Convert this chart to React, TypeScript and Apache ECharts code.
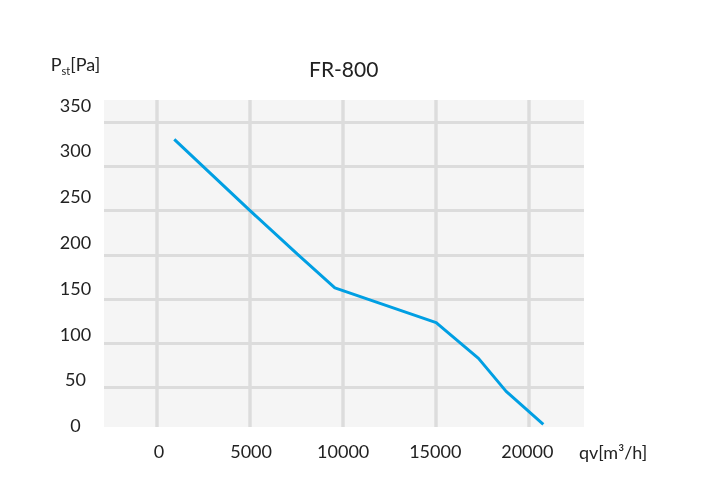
import { useEffect, useRef } from 'react';
import * as echarts from 'echarts';

const chartTitle = 'FR-800';
const flowValues = [830, 4900, 7500, 9550, 15050, 17350, 18850, 20870];
const pressureValues = [312, 235, 187, 150, 112, 73, 37, 1];
const xTickValues = [0, 5000, 10000, 15000, 20000];
const yTickValues = [0, 50, 100, 150, 200, 250, 300, 350];
const bgGridSteps = [0, 1, 2, 3, 4, 5, 6, 7];

const FONT = 'Lato';
const TEXT = '#222222';
const GRIDLINE = '#dcdcdc';

export default function App() {
  const ref = useRef<HTMLDivElement>(null);
  useEffect(() => {
    if (!ref.current) return;
    const chart = echarts.init(ref.current, null, { renderer: 'svg' });
    const xMin = xTickValues[0];
    const xMax = xTickValues[xTickValues.length - 1];
    const xStep = xTickValues[1] - xTickValues[0];
    const yMin = yTickValues[0];
    const yMax = yTickValues[yTickValues.length - 1];
    const yStep = yTickValues[1] - yTickValues[0];
    const hidden = { show: false };
    // data grid: xMin..xMax spans 368.3 px; extend one extra step so the curve is not cut off
    const dataStepPx = 368.3 / ((xMax - xMin) / xStep);
    chart.setOption({
      animation: false,
      textStyle: { fontFamily: FONT },
      title: {
        text: chartTitle,
        left: 309,
        top: 58,
        padding: 0,
        textStyle: { fontFamily: FONT, fontSize: 21, fontWeight: 'normal', color: TEXT },
      },
      grid: [
        // plot background
        { left: 104, top: 100, width: 480, height: 327, show: true, backgroundColor: '#f5f5f5', borderWidth: 0, containLabel: false },
        // vertical grid lines
        { left: 156.3, top: 100, width: 372.4, height: 327, containLabel: false },
        // horizontal grid lines
        { left: 104, top: 122.3, width: 480, height: 309.2, containLabel: false },
        // data
        { left: 159, top: 104.5, width: 368.3 + dataStepPx, height: 320.8, containLabel: false },
      ],
      xAxis: [
        { gridIndex: 0, type: 'value', min: 0, max: 1, ...hidden },
        {
          gridIndex: 1, type: 'value', min: xMin, max: xMax, interval: xStep,
          axisLine: { show: false }, axisTick: { show: false }, axisLabel: { show: false },
          splitLine: { show: true, lineStyle: { color: GRIDLINE, width: 3.5 } },
        },
        { gridIndex: 2, type: 'value', min: 0, max: 1, ...hidden },
        {
          gridIndex: 3, type: 'value', min: xMin, max: xMax + xStep, interval: xStep,
          axisLine: { show: false }, axisTick: { show: false }, splitLine: { show: false },
          axisLabel: {
            show: true, fontFamily: FONT, fontSize: 18, color: TEXT, margin: 17,
            showMaxLabel: false,
            formatter: (v: number) => (v > xMax ? '' : String(v)),
          },
          name: 'qv[m³/h]',
          nameLocation: 'end',
          nameGap: -40.4,
          nameTextStyle: { fontFamily: FONT, fontSize: 18, color: TEXT, verticalAlign: 'top', lineHeight: 53, align: 'left' },
        },
      ],
      yAxis: [
        { gridIndex: 0, type: 'value', min: 0, max: 1, ...hidden },
        { gridIndex: 1, type: 'value', min: 0, max: 1, ...hidden },
        {
          gridIndex: 2, type: 'value', min: bgGridSteps[0], max: bgGridSteps[bgGridSteps.length - 1], interval: 1,
          axisLine: { show: false }, axisTick: { show: false }, axisLabel: { show: false },
          splitLine: { show: true, showMinLine: false, lineStyle: { color: GRIDLINE, width: 3 } },
        },
        {
          gridIndex: 3, type: 'value', min: yMin, max: yMax, interval: yStep,
          axisLine: { show: false }, axisTick: { show: false }, splitLine: { show: false },
          axisLabel: {
            show: true, fontFamily: FONT, fontSize: 18, color: TEXT, align: 'center', margin: 83.5,
            formatter: (v: number) => String(v),
          },
          name: '{p|P}{s|st}{p|[Pa]}',
          nameLocation: 'end',
          nameGap: 29,
          nameTextStyle: {
            align: 'center',
            padding: [0, 167, 0, 0],
            rich: {
              p: { fontFamily: FONT, fontSize: 18, color: TEXT, lineHeight: 24, verticalAlign: 'middle' },
              s: { fontFamily: FONT, fontSize: 11, color: TEXT, lineHeight: 24, verticalAlign: 'bottom' },
            },
          },
        },
      ],
      series: [
        {
          type: 'line',
          xAxisIndex: 3,
          yAxisIndex: 3,
          data: flowValues.map((q, i) => [q, pressureValues[i]]),
          symbol: 'none',
          clip: false,
          lineStyle: { color: '#009fe3', width: 3 },
        },
      ],
    });
    return () => chart.dispose();
  }, []);
  return <div ref={ref} style={{ position: 'fixed', left: 0, top: 0, width: 706, height: 494 }} />;
}
